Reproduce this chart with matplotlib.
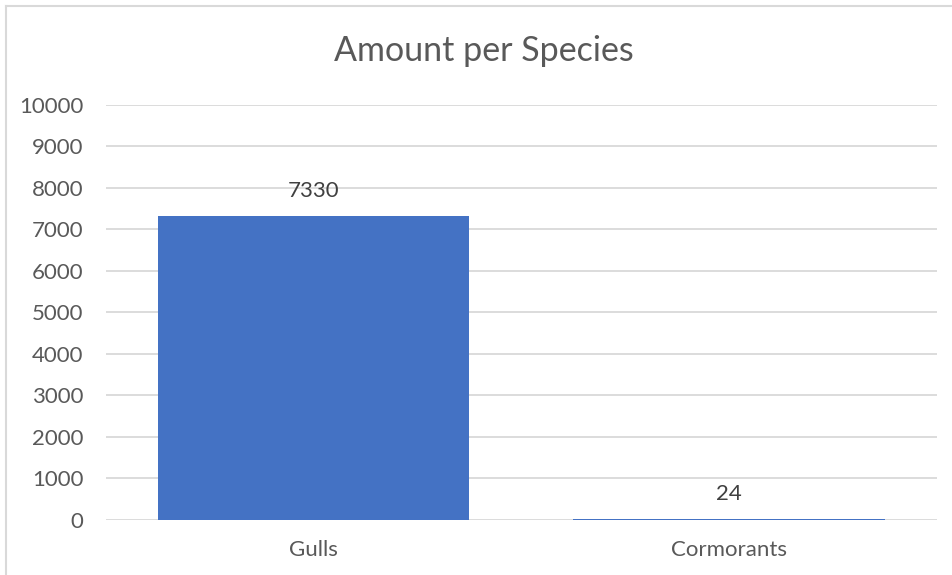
import matplotlib
matplotlib.use('Agg')
import matplotlib.pyplot as plt
from matplotlib.lines import Line2D

species = ['Gulls', 'Cormorants']
amounts = [7330, 24]
y_ticks = list(range(0, 10001, 1000))

plt.rcParams['font.family'] = ['Lato', 'DejaVu Sans']

fig = plt.figure(figsize=(9.53, 5.75), dpi=100)
ax = fig.add_axes([0.111, 0.0957, 0.872, 0.7217])

bars = ax.bar(range(len(species)), amounts, width=0.75, color='#4472C4', zorder=3)
ax.set_xlim(-0.5, len(species) - 0.5)
ax.set_ylim(0, 10000)
ax.set_yticks(y_ticks)
ax.set_xticks(range(len(species)))
ax.set_xticklabels(species)
ax.grid(axis='y', color='#d9d9d9', linewidth=1.3, zorder=0)
for s in ax.spines.values():
    s.set_visible(False)
ax.tick_params(axis='both', length=0, labelsize=16, labelcolor='#595959')
ax.tick_params(axis='y', pad=16)
ax.tick_params(axis='x', pad=14.5)

for rect, val in zip(bars, amounts):
    ax.annotate(str(val), (rect.get_x() + rect.get_width() / 2, rect.get_height()),
                xytext=(0, 18), textcoords='offset points', ha='center', va='center',
                fontsize=16, color='#404040')

fig.suptitle('Amount per Species', x=0.508, y=0.911, va='center', fontsize=24.5, color='#595959')

# chart border (only top and left visible in the crop)
fig.add_artist(Line2D([0.0065, 0.0065], [0, 0.99], color='#d9d9d9', linewidth=1.5, transform=fig.transFigure))
fig.add_artist(Line2D([0.0065, 1.0], [0.99, 0.99], color='#d9d9d9', linewidth=1.5, transform=fig.transFigure))

fig.savefig('out.png', dpi=100)
